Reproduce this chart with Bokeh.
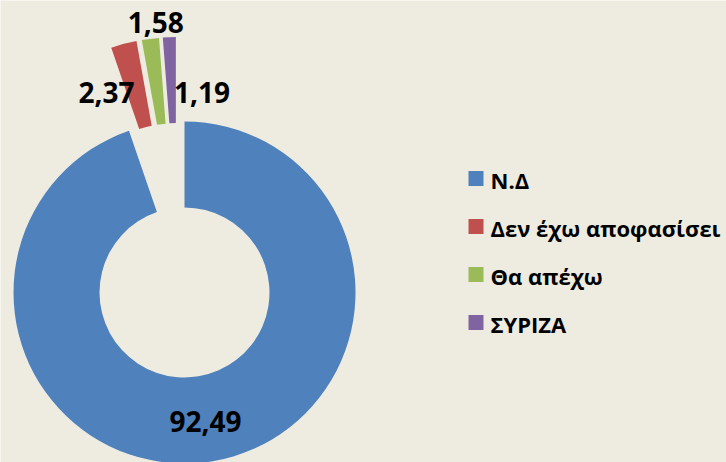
import numpy as np
from bokeh.plotting import figure
from bokeh.models import Range1d, ColumnDataSource
from bokeh.core.properties import value
from bokeh.embed import file_html
from bokeh.resources import INLINE

# ---- data ----
categories = ["Ν.Δ", "Δεν έχω αποφασίσει", "Θα απέχω", "ΣΥΡΙΖΑ"]
values = [92.49, 2.37, 1.58, 1.19]
value_labels = ["92,49", "2,37", "1,58", "1,19"]
colors = ["#4F81BD", "#C0504D", "#9BBB59", "#8064A2"]
exploded = [False, True, True, True]

# ---- layout (reference pixel space, y downward) ----
BG = "#EEECE1"
W, H = 726, 462
X0, Y0 = 0, 0
CX, CY = 184, 292
R_OUT, R_IN = 171, 85
EXPLODE = 85
SPREAD = 0.5
label_offsets = [(0, 3), (-28, 7), (0, -59), (31, 12)]
LEG_X, LEG_Y0, LEG_DY, LEG_SQ = 475.5, 178, 48, 15
FONT = "Open Sans"

vals = np.array(values, dtype=float)
frac = vals / vals.sum()
cw_end = np.cumsum(frac) * 360.0
cw_start = cw_end - frac * 360.0
bis = (cw_start + cw_end) / 2.0

ex = np.array(exploded)
g_mid = (cw_start[ex].min() + cw_end[ex].max()) / 2.0
off_dir = np.where(ex, g_mid + SPREAD * (bis - g_mid), bis)
off_len = np.where(ex, EXPLODE, 0.0)

apex_x = CX + off_len * np.sin(np.radians(off_dir))
apex_yref = CY - off_len * np.cos(np.radians(off_dir))

start_angle = np.radians(90.0 - cw_end)
end_angle = np.radians(90.0 - cw_start)

src = ColumnDataSource(dict(
    x=apex_x, y=-apex_yref, start=start_angle, end=end_angle, color=colors,
))

p = figure(width=W, height=H,
           x_range=Range1d(X0, X0 + W),
           y_range=Range1d(-(Y0 + H), -Y0),
           output_backend="svg", toolbar_location=None, tools="",
           min_border=0, x_axis_location=None, y_axis_location=None,
           background_fill_color=BG, border_fill_color=BG,
           outline_line_color=None)
p.xgrid.visible = False
p.ygrid.visible = False

p.annular_wedge(x="x", y="y", inner_radius=R_IN, outer_radius=R_OUT,
                start_angle="start", end_angle="end", color="color",
                line_color=None, source=src)

# value labels
r_mid = (R_IN + R_OUT) / 2.0
lx = apex_x + r_mid * np.sin(np.radians(bis)) + np.array([o[0] for o in label_offsets])
ly = apex_yref - r_mid * np.cos(np.radians(bis)) + np.array([o[1] for o in label_offsets])
p.text(x=lx, y=-ly, text=value_labels, text_align="center", text_baseline="middle",
       text_font=value(FONT), text_font_style="bold", text_font_size="28px",
       text_color="#000000")

# legend
idx = np.arange(len(categories))
leg_y = LEG_Y0 + LEG_DY * idx
p.scatter(x=[LEG_X] * len(categories), y=-leg_y, marker="square", size=LEG_SQ,
          color=colors, line_color=None)
p.text(x=[LEG_X + 14.5] * len(categories), y=-(leg_y + 1), text=categories,
       text_align="left", text_baseline="middle",
       text_font=value(FONT), text_font_style="bold", text_font_size="22px",
       text_color="#000000")

open("out.html", "w").write(file_html(p, INLINE))
